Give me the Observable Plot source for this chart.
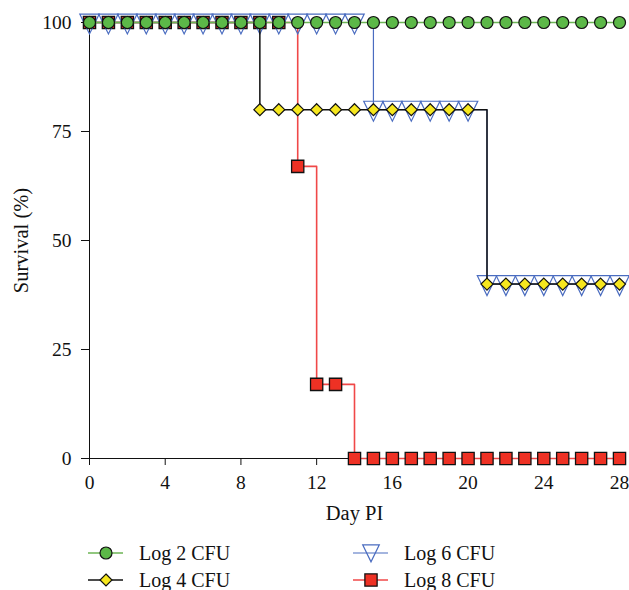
<!DOCTYPE html>
<html><head><meta charset="utf-8">
<script src="https://cdn.jsdelivr.net/npm/d3@7"></script>
<script src="https://cdn.jsdelivr.net/npm/@observablehq/plot@0.6"></script>
<style>
html,body{margin:0;padding:0;background:#fff;}
body{width:629px;height:590px;overflow:hidden;font-family:"Liberation Serif",serif;}
#legend{position:relative;width:629px;height:60px;}
.item{position:absolute;display:flex;align-items:center;font-size:20px;color:#111;height:22px;line-height:22px;}
.item svg{display:block;margin-right:15px;}
</style></head><body>
<div id="chart"></div>
<div id="legend"></div>
<script>
const days = [0,1,2,3,4,5,6,7,8,9,10,11,12,13,14,15,16,17,18,19,20,21,22,23,24,25,26,27,28];
const log2 = [100,100,100,100,100,100,100,100,100,100,100,100,100,100,100,100,100,100,100,100,100,100,100,100,100,100,100,100,100];
const log4 = [100,100,100,100,100,100,100,100,100,80,80,80,80,80,80,80,80,80,80,80,80,40,40,40,40,40,40,40,40];
const log6 = [100,100,100,100,100,100,100,100,100,100,100,100,100,100,100,80,80,80,80,80,80,40,40,40,40,40,40,40,40];
const log8 = [100,100,100,100,100,100,100,100,100,100,100,67,17,17,0,0,0,0,0,0,0,0,0,0,0,0,0,0,0];
const seriesNames = ["Log 2 CFU","Log 4 CFU","Log 6 CFU","Log 8 CFU"];
const xTicks = [0,4,8,12,16,20,24,28];
const yTicks = [0,25,50,75,100];

const seriesValues = {"Log 2 CFU": log2, "Log 4 CFU": log4, "Log 6 CFU": log6, "Log 8 CFU": log8};
const rows = name => days.map((d, i) => ({day: d, value: seriesValues[name][i], series: name}));

// open down-pointing triangle (slightly elongated, as in the reference)
const downTriangle = {
  draw(ctx, size) {
    const r = Math.sqrt(size / Math.PI);
    ctx.moveTo(-r, -0.87 * r);
    ctx.lineTo(r, -0.87 * r);
    ctx.lineTo(0, 1.18 * r);
    ctx.closePath();
  }
};

const style = {
  "Log 2 CFU": {line: "#6cb555", lw: 1.6, dot: {symbol: "circle", r: 6, fill: "#5cb848", stroke: "#111", strokeWidth: 1.2}},
  "Log 4 CFU": {line: "#111", lw: 1.5, dot: {symbol: "diamond2", r: 5.4, fill: "#f6e71e", stroke: "#111", strokeWidth: 1.2}},
  "Log 6 CFU": {line: "#4a6cc0", lw: 1.2, dot: {symbol: downTriangle, r: 9.7, fill: "none", stroke: "#4a6cc0", strokeWidth: 1.2}},
  "Log 8 CFU": {line: "#f04848", lw: 1.6, dot: {symbol: "square", r: 6.9, fill: "#ee3124", stroke: "#111", strokeWidth: 1.3}}
};
const legendR = {"Log 2 CFU": 6, "Log 4 CFU": 5.4, "Log 6 CFU": 8.3, "Log 8 CFU": 6.9};

const drawOrder = ["Log 8 CFU", "Log 6 CFU", "Log 4 CFU", "Log 2 CFU"];
const marks = [];
for (const name of drawOrder) {
  const s = style[name];
  const data = rows(name);
  marks.push(Plot.line(data, {x: "day", y: "value", curve: "step-after", stroke: s.line, strokeWidth: s.lw}));
  marks.push(Plot.dot(data, {x: "day", y: "value", ...s.dot}));
}

const chart = Plot.plot({
  width: 629,
  height: 530,
  marginLeft: 89,
  marginRight: 10,
  marginTop: 22,
  marginBottom: 72,
  style: {fontFamily: "Liberation Serif, serif", fontSize: "19.5px", color: "#111", background: "#fff", overflow: "visible"},
  x: {domain: [0, 28], ticks: xTicks, tickSize: 7, tickPadding: 10, label: "Day PI", labelAnchor: "center", labelArrow: "none", labelOffset: 61, line: true},
  y: {domain: [0, 100], ticks: yTicks, tickSize: 8, tickPadding: 10, label: "Survival (%)", labelAnchor: "center", labelArrow: "none", labelOffset: 76, line: true},
  marks
});
d3.select(chart).selectAll('[aria-label="x-axis label"], [aria-label="y-axis label"]').attr("font-size", "20.5px").style("font-size", "20.5px");
document.getElementById("chart").appendChild(chart);

// legend
const legend = d3.select("#legend");
const positions = [
  {name: "Log 2 CFU", left: 88, top: 12},
  {name: "Log 6 CFU", left: 353, top: 12},
  {name: "Log 4 CFU", left: 88, top: 39},
  {name: "Log 8 CFU", left: 353, top: 39}
];
for (const p of positions) {
  const s = style[p.name];
  const item = legend.append("div").attr("class", "item").style("left", p.left + "px").style("top", p.top + "px");
  const svg = item.append("svg").attr("width", 36).attr("height", 22);
  svg.append("line").attr("x1", 0).attr("x2", 35).attr("y1", 11).attr("y2", 11).attr("stroke", s.line).attr("stroke-width", s.lw);
  const sym = typeof s.dot.symbol === "string"
    ? {circle: d3.symbolCircle, diamond2: d3.symbolDiamond2, square: d3.symbolSquare}[s.dot.symbol]
    : s.dot.symbol;
  const r = legendR[p.name];
  svg.append("path")
    .attr("transform", p.name === "Log 6 CFU" ? "translate(18,10)" : "translate(18,11)")
    .attr("d", d3.symbol(sym, Math.PI * r * r)())
    .attr("fill", s.dot.fill).attr("stroke", s.dot.stroke).attr("stroke-width", s.dot.strokeWidth);
  item.append("span").text(p.name);
}
</script>
</body></html>
